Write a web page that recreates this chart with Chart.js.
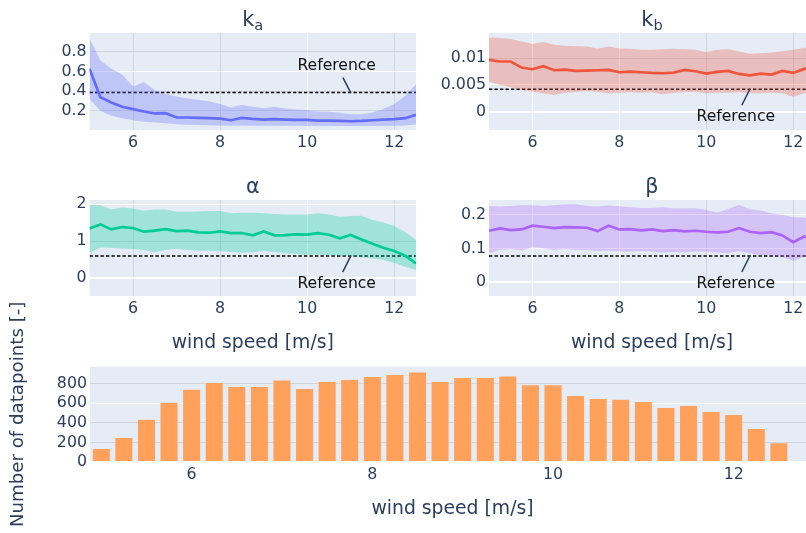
<!DOCTYPE html>
<html>
<head>
<meta charset="utf-8">
<script src="https://cdn.jsdelivr.net/npm/chart.js@4.4.1/dist/chart.umd.min.js"></script>
<style>
  html, body { margin: 0; padding: 0; background: #fff; overflow: hidden; width: 806px; height: 533px; }
  canvas { position: absolute; }
</style>
</head>
<body>
<canvas id="cKa" width="440" height="160" style="left:0;top:0"></canvas>
<canvas id="cKb" width="420" height="160" style="left:420px;top:0"></canvas>
<canvas id="cAlpha" width="440" height="196" style="left:0;top:160px"></canvas>
<canvas id="cBeta" width="420" height="196" style="left:420px;top:160px"></canvas>
<canvas id="cCount" width="840" height="262" style="left:0;top:280px"></canvas>
<script>
// bins of wind speed [m/s]
const windSpeed = [5, 5.25, 5.5, 5.75, 6, 6.25, 6.5, 6.75, 7, 7.25, 7.5, 7.75, 8, 8.25, 8.5, 8.75,
                   9, 9.25, 9.5, 9.75, 10, 10.25, 10.5, 10.75, 11, 11.25, 11.5, 11.75, 12, 12.25, 12.5];

const kaMean  = [0.627, 0.337, 0.285, 0.241, 0.217, 0.193, 0.173, 0.176, 0.132, 0.132, 0.128, 0.125, 0.121, 0.104, 0.128, 0.118,
                 0.111, 0.115, 0.111, 0.108, 0.108, 0.101, 0.101, 0.097, 0.094, 0.097, 0.104, 0.111, 0.115, 0.125, 0.16];
const kaUpper = [0.935, 0.713, 0.627, 0.569, 0.446, 0.49, 0.412, 0.371, 0.344, 0.326, 0.309, 0.296, 0.268, 0.234, 0.262, 0.241,
                 0.227, 0.241, 0.224, 0.214, 0.207, 0.193, 0.19, 0.179, 0.166, 0.166, 0.183, 0.217, 0.268, 0.35, 0.47];
const kaLower = [0.32, 0.2, 0.149, 0.125, 0.104, 0.09, 0.08, 0.073, 0.063, 0.058, 0.055, 0.053, 0.05, 0.048, 0.05, 0.049,
                 0.048, 0.048, 0.047, 0.047, 0.046, 0.046, 0.045, 0.045, 0.045, 0.045, 0.045, 0.046, 0.047, 0.05, 0.06];

const kbMean  = [0.00969, 0.00938, 0.00938, 0.00825, 0.00794, 0.0085, 0.00775, 0.00788, 0.00763, 0.00769, 0.00775, 0.00781, 0.00738, 0.0075, 0.00738, 0.00725,
                 0.00719, 0.00731, 0.00781, 0.00756, 0.00713, 0.00744, 0.00763, 0.00706, 0.00681, 0.00713, 0.00694, 0.00763, 0.00725, 0.008, 0.0082];
const kbUpper = [0.01388, 0.01375, 0.01356, 0.01313, 0.01263, 0.013, 0.0125, 0.01231, 0.01225, 0.01219, 0.01175, 0.01219, 0.01181, 0.01175, 0.01156, 0.01156,
                 0.01169, 0.01175, 0.01169, 0.01156, 0.01113, 0.01156, 0.01169, 0.01125, 0.01081, 0.01094, 0.01106, 0.01131, 0.01156, 0.01188, 0.0125];
const kbLower = [0.00563, 0.005, 0.00456, 0.00406, 0.00375, 0.00344, 0.00313, 0.00356, 0.00369, 0.00388, 0.00369, 0.00344, 0.00356, 0.00369, 0.00356, 0.00363,
                 0.00325, 0.00356, 0.00369, 0.00369, 0.00344, 0.00356, 0.00356, 0.00369, 0.00344, 0.00344, 0.00356, 0.00344, 0.00281, 0.00344, 0.00375];

const alphaMean  = [1.345, 1.455, 1.318, 1.382, 1.355, 1.255, 1.282, 1.327, 1.273, 1.282, 1.236, 1.227, 1.264, 1.218, 1.218, 1.155,
                    1.264, 1.155, 1.164, 1.182, 1.173, 1.218, 1.173, 1.073, 1.164, 1.045, 0.927, 0.818, 0.727, 0.6, 0.39];
const alphaUpper = [2.0, 1.98, 1.864, 1.918, 1.891, 1.827, 1.864, 1.864, 1.8, 1.8, 1.809, 1.818, 1.818, 1.755, 1.773, 1.773,
                    1.755, 1.736, 1.727, 1.727, 1.727, 1.755, 1.727, 1.664, 1.682, 1.691, 1.573, 1.509, 1.409, 1.25, 1.03];
const alphaLower = [0.664, 0.827, 0.818, 0.791, 0.782, 0.755, 0.691, 0.755, 0.791, 0.755, 0.736, 0.736, 0.718, 0.709, 0.682, 0.691,
                    0.736, 0.7, 0.664, 0.645, 0.618, 0.636, 0.609, 0.6, 0.591, 0.555, 0.527, 0.482, 0.409, 0.3, 0.21];

const betaMean  = [0.153, 0.16, 0.155, 0.157, 0.168, 0.165, 0.161, 0.164, 0.163, 0.162, 0.152, 0.168, 0.157, 0.158, 0.154, 0.157,
                   0.152, 0.155, 0.151, 0.153, 0.15, 0.148, 0.15, 0.161, 0.15, 0.146, 0.149, 0.139, 0.119, 0.136, 0.125];
const betaUpper = [0.227, 0.225, 0.227, 0.229, 0.229, 0.227, 0.229, 0.231, 0.232, 0.227, 0.225, 0.228, 0.226, 0.223, 0.221, 0.221,
                   0.223, 0.219, 0.219, 0.22, 0.215, 0.207, 0.218, 0.23, 0.217, 0.213, 0.205, 0.2, 0.193, 0.192, 0.185];
const betaLower = [0.086, 0.096, 0.099, 0.094, 0.104, 0.101, 0.096, 0.099, 0.096, 0.096, 0.093, 0.094, 0.091, 0.091, 0.093, 0.091,
                   0.088, 0.09, 0.088, 0.091, 0.091, 0.088, 0.086, 0.093, 0.086, 0.081, 0.081, 0.076, 0.064, 0.076, 0.078];

const datapointCount = [137, 250, 438, 612, 745, 814, 773, 773, 838, 752, 824, 845, 875, 896, 920, 824,
                        865, 865, 879, 790, 790, 680, 650, 643, 619, 557, 578, 516, 486, 342, 198];

// reference values (dashed lines)
const kaRef = 0.385;
const kbRef = 0.0042;
const alphaRef = 0.59;
const betaRef = 0.078;

// tick labels
const speedTicks = [6, 8, 10, 12];
const kaTicks = [0.2, 0.4, 0.6, 0.8];
const kbTicks = [0, 0.005, 0.01];
const alphaTicks = [0, 1, 2];
const betaTicks = [0, 0.1, 0.2];
const countTicks = [0, 200, 400, 600, 800];

const PLOT_BG = '#E5ECF6';
const TXT = '#2a3f5f';
const GRID_GRAY = '#d0d4db';
const TICK_SIZE = 15.8;
const AXIS_TITLE_SIZE = 18.8;

Chart.defaults.font.family = '"DejaVu Sans", Verdana, sans-serif';
Chart.defaults.color = TXT;
Chart.defaults.animation = false;

const pts = ys => windSpeed.map((x, i) => ({ x: x, y: ys[i] }));

function gridColor(grayAt) {
    return ctx => {
        const v = ctx.tick ? ctx.tick.value : null;
        if (v === 0) return '#ffffff';
        return grayAt.includes(v) ? GRID_GRAY : '#ffffff';
    };
}

function axisX(o) {
    return {
        type: 'linear', min: o.min, max: o.max, offset: false,
        afterBuildTicks: s => { s.ticks = speedTicks.map(v => ({ value: v })); },
        afterFit: s => { s.height = o.height; },
        ticks: { color: TXT, font: { size: TICK_SIZE }, padding: o.pad, maxRotation: 0, autoSkip: false, callback: v => String(v) },
        grid: { display: o.grid, color: gridColor(o.gray || []), drawTicks: false, lineWidth: 1 },
        border: { display: false },
        title: { display: !!o.title, text: 'wind speed [m/s]', color: TXT, font: { size: AXIS_TITLE_SIZE }, padding: { top: 0, bottom: 2 } }
    };
}

function axisY(o) {
    return {
        type: 'linear', min: o.min, max: o.max,
        afterBuildTicks: s => { s.ticks = o.ticks.map(v => ({ value: v })); },
        afterFit: s => { s.width = o.width; },
        ticks: { color: TXT, font: { size: TICK_SIZE }, padding: 3, autoSkip: false, callback: v => String(v) },
        grid: { color: gridColor(o.gray || []), drawTicks: false, lineWidth: c => (c.tick && c.tick.value === 0 ? 2 : 1) },
        border: { display: false },
        title: { display: !!o.title, text: o.title || '', color: TXT, font: { size: o.titleSize || AXIS_TITLE_SIZE }, padding: { top: 7, bottom: 0 } }
    };
}

// background of the plot area, subplot title and the "Reference" annotation
const panelPlugin = {
    id: 'panel',
    beforeDraw(chart) {
        const { ctx, chartArea: a } = chart;
        ctx.save();
        ctx.fillStyle = PLOT_BG;
        ctx.fillRect(a.left, a.top, a.right - a.left, a.bottom - a.top);
        ctx.restore();
    },
    afterDraw(chart, args, opts) {
        const { ctx, chartArea: a } = chart;
        ctx.save();
        if (opts.title) {
            const fam = Chart.defaults.font.family;
            const big = '20.8px ' + fam, small = '14.6px ' + fam;
            ctx.font = big;
            const w1 = ctx.measureText(opts.title).width;
            ctx.font = small;
            const w2 = opts.sub ? ctx.measureText(opts.sub).width : 0;
            const x0 = (a.left + a.right) / 2 - (w1 + w2) / 2;
            const base = a.top - 7.5;
            ctx.fillStyle = TXT;
            ctx.textBaseline = 'alphabetic';
            ctx.textAlign = 'left';
            ctx.font = big;
            ctx.fillText(opts.title, x0, base);
            if (opts.sub) {
                ctx.font = small;
                ctx.fillText(opts.sub, x0 + w1, base + 4.3);
            }
        }
        if (opts.refY !== undefined) {
            const hx = chart.scales.x.getPixelForValue(opts.refX);
            const hy = chart.scales.y.getPixelForValue(opts.refY);
            const tx = hx - 14, ty = hy + opts.dy;
            const t = 1 - 12 / Math.abs(opts.dy);
            ctx.strokeStyle = TXT;
            ctx.lineWidth = 1.5;
            ctx.beginPath();
            ctx.moveTo(hx, hy);
            ctx.lineTo(hx + (tx - hx) * t, hy + (ty - hy) * t);
            ctx.stroke();
            ctx.fillStyle = '#111';
            ctx.font = '15.6px ' + Chart.defaults.font.family;
            ctx.textAlign = 'center';
            ctx.textBaseline = 'middle';
            ctx.fillText('Reference', tx, ty);
        }
        ctx.restore();
    }
};

function bandChart(id, p) {
    return new Chart(document.getElementById(id), {
        type: 'line',
        data: {
            datasets: [
                { data: pts(p.upper), borderWidth: 0, pointRadius: 0, fill: '+1', backgroundColor: p.band },
                { data: pts(p.lower), borderWidth: 0, pointRadius: 0, fill: false },
                { data: pts(p.mean), borderColor: p.color, borderWidth: 2.7, pointRadius: 0, fill: false, tension: 0 },
                { data: [{ x: 5, y: p.ref }, { x: 12.5, y: p.ref }], borderColor: '#000', borderWidth: 1.5,
                  borderDash: [3.3, 2.2], pointRadius: 0, fill: false }
            ]
        },
        options: {
            responsive: false,
            layout: { padding: { top: p.padTop, right: p.padRight, left: 0, bottom: 0 } },
            plugins: {
                legend: { display: false }, tooltip: { enabled: false },
                panel: { title: p.title, sub: p.sub, refX: 11, refY: p.ref, dy: p.dy }
            },
            scales: {
                x: axisX({ min: 5, max: 12.5, height: p.xHeight, pad: p.xPad, grid: true, gray: p.xGray, title: p.xTitle }),
                y: axisY({ min: p.yMin, max: p.yMax, ticks: p.ticks, width: p.yWidth, gray: p.yGray })
            }
        },
        plugins: [panelPlugin]
    });
}

bandChart('cKa', {
    upper: kaUpper, lower: kaLower, mean: kaMean, ref: kaRef,
    color: '#636EFA', band: 'rgba(99,110,250,0.3)', title: 'k', sub: 'a', dy: -27,
    yMin: 0.005, yMax: 0.99, ticks: kaTicks, yWidth: 89.5, padTop: 33, padRight: 24,
    xHeight: 30, xPad: 3, xGray: [6, 8, 12], yGray: [0.8, 0.4, 0.2]
});

bandChart('cKb', {
    upper: kbUpper, lower: kbLower, mean: kbMean, ref: kbRef,
    color: '#EF553B', band: 'rgba(239,85,59,0.3)', title: 'k', sub: 'b', dy: 28,
    yMin: -0.0034, yMax: 0.0147, ticks: kbTicks, yWidth: 69, padTop: 33, padRight: 25,
    xHeight: 30, xPad: 3, xGray: [10, 12], yGray: [0.01]
});

bandChart('cAlpha', {
    upper: alphaUpper, lower: alphaLower, mean: alphaMean, ref: alphaRef,
    color: '#00CC96', band: 'rgba(0,204,150,0.3)', title: 'α', dy: 28,
    yMin: -0.5, yMax: 2.12, ticks: alphaTicks, yWidth: 89.5, padTop: 40, padRight: 24,
    xHeight: 60, xPad: 3, xGray: [6, 8, 12], yGray: [1], xTitle: true
});

bandChart('cBeta', {
    upper: betaUpper, lower: betaLower, mean: betaMean, ref: betaRef,
    color: '#AB63FA', band: 'rgba(171,99,250,0.3)', title: 'β', dy: 28,
    yMin: -0.041, yMax: 0.2445, ticks: betaTicks, yWidth: 69, padTop: 40, padRight: 25,
    xHeight: 60, xPad: 3, xGray: [10, 12], yGray: [], xTitle: true
});

// number of datapoints per bin
new Chart(document.getElementById('cCount'), {
    type: 'bar',
    data: {
        datasets: [{
            data: pts(datapointCount),
            backgroundColor: '#FFA15A', borderColor: PLOT_BG, borderWidth: 0.5,
            barPercentage: 0.8, categoryPercentage: 1.0
        }]
    },
    options: {
        responsive: false,
        layout: { padding: { top: 86.7, right: 25, left: 0, bottom: 20 } },
        plugins: { legend: { display: false }, tooltip: { enabled: false }, panel: {} },
        scales: {
            x: axisX({ min: 4.875, max: 12.9, height: 60, pad: 3, grid: false, title: true }),
            y: axisY({ min: 0, max: 975, ticks: countTicks, width: 90, gray: [800, 400, 200],
                       title: 'Number of datapoints [-]', titleSize: 18.2 })
        }
    },
    plugins: [panelPlugin]
});
</script>
</body>
</html>
